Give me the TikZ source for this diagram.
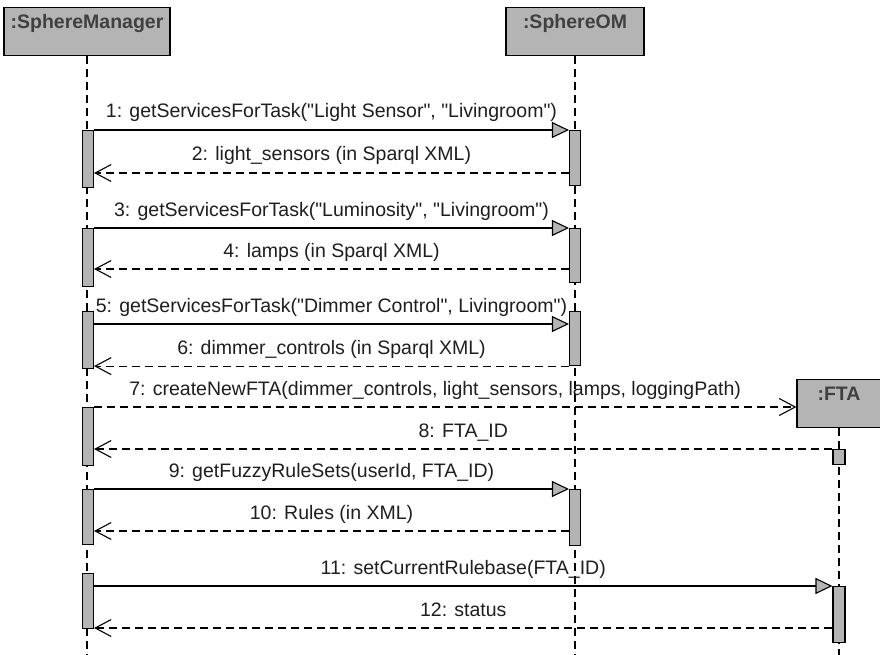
\documentclass[tikz,border=0pt]{standalone}
\usepackage{fontspec}
\setmainfont{Liberation Sans}[Ligatures=TeXOff]
\usetikzlibrary{arrows.meta}
\definecolor{umlgray}{RGB}{180,180,180}
\definecolor{ink}{RGB}{30,30,30}
\tikzstyle{object}=[draw=black,fill=umlgray,line width=1.3pt,inner sep=0pt,anchor=north,text height=21pt,text depth=27pt,font=\fontsize{19.5}{22}\selectfont\bfseries,text=ink!85]
\tikzstyle{activation}=[draw=black,fill=umlgray,line width=1.1pt,inner sep=0pt,minimum width=11pt,anchor=north]
\tikzstyle{lifeline}=[line width=1.1pt,dash pattern=on 8pt off 5pt]
\tikzstyle{call}=[line width=1.1pt,-{Triangle[length=17pt,width=16pt,fill=umlgray]}]
\tikzstyle{reply}=[line width=1.1pt,dash pattern=on 8pt off 5pt,-{Straight Barb[length=16pt,width=17pt]}]
\tikzstyle{msg}=[midway,anchor=base,yshift=12pt,inner sep=0pt,font=\fontsize{19.5}{22}\selectfont,text=ink]

\begin{document}
\begin{tikzpicture}[x=1pt,y=-1pt]
	\useasboundingbox (0,0) rectangle (880,655);
	% objects
	\node[object,minimum width=166pt] (sm) at (87,7) {:SphereManager};
	\node[object,minimum width=138pt] (om) at (575,7) {:SphereOM};
	\node[object,minimum width=84pt] (fta) at (839,379) {:FTA};
	% lifelines
	\draw[lifeline] (sm.south) -- (sm.south |- 0,655);
	\draw[lifeline] (om.south) -- (om.south |- 0,655);
	\draw[lifeline] (fta.south) -- (fta.south |- 0,655);
	% activations
	\node[activation,minimum height=57pt] (sm1) at (88,130) {};
	\node[activation,minimum height=58pt] (sm2) at (88,228) {};
	\node[activation,minimum height=57pt] (sm3) at (88,311) {};
	\node[activation,minimum height=58pt] (sm4) at (88,407) {};
	\node[activation,minimum height=55pt] (sm5) at (88,489) {};
	\node[activation,minimum height=55pt] (sm6) at (88,573) {};
	\node[activation,minimum height=55pt] (om1) at (575,130) {};
	\node[activation,minimum height=54pt] (om2) at (575,228) {};
	\node[activation,minimum height=54pt] (om3) at (575,311) {};
	\node[activation,minimum height=56pt] (om4) at (575,489) {};
	\node[activation,minimum height=15pt,minimum width=12pt] (fta1) at (839,449) {};
	\node[activation,minimum height=56pt,minimum width=12pt] (fta2) at (839,586) {};
	% messages
	\draw[call] (sm1.north east) -- node[msg] {1: getServicesForTask("Light Sensor", "Livingroom")} (om1.north west);
	\draw[reply] (om1.west |- 0,173) -- node[msg] {2: light\_sensors (in Sparql XML)} (sm1.east |- 0,173);
	\draw[call] (sm2.north east) -- node[msg] {3: getServicesForTask("Luminosity", "Livingroom")} (om2.north west);
	\draw[reply] (om2.west |- 0,269) -- node[msg] {4: lamps (in Sparql XML)} (sm2.east |- 0,269);
	\draw[call] (sm3.east |- 0,324) -- node[msg] {5: getServicesForTask("Dimmer Control", Livingroom")} (om3.west |- 0,324);
	\draw[reply] (om3.south west) -- node[msg] {6: dimmer\_controls (in Sparql XML)} (sm3.east |- om3.south);
	\draw[reply] (sm4.north east) -- node[msg,xshift=-10pt] {7: createNewFTA(dimmer\_controls, light\_sensors, lamps, loggingPath)} (fta.west |- sm4.north);
	\draw[reply] (fta1.north west) -- node[msg] {8: FTA\_ID} (sm4.east |- fta1.north);
	\draw[call] (sm5.north east) -- node[msg] {9: getFuzzyRuleSets(userId, FTA\_ID)} (om4.north west);
	\draw[reply] (om4.west |- 0,531) -- node[msg] {10: Rules (in XML)} (sm5.east |- 0,531);
	\draw[call] (sm6.east |- fta2.north) -- node[msg] {11: setCurrentRulebase(FTA\_ID)} (fta2.north west);
	\draw[reply] (fta2.west |- 0,628) -- node[msg] {12: status} (sm6.east |- 0,628);
\end{tikzpicture}
\end{document}
